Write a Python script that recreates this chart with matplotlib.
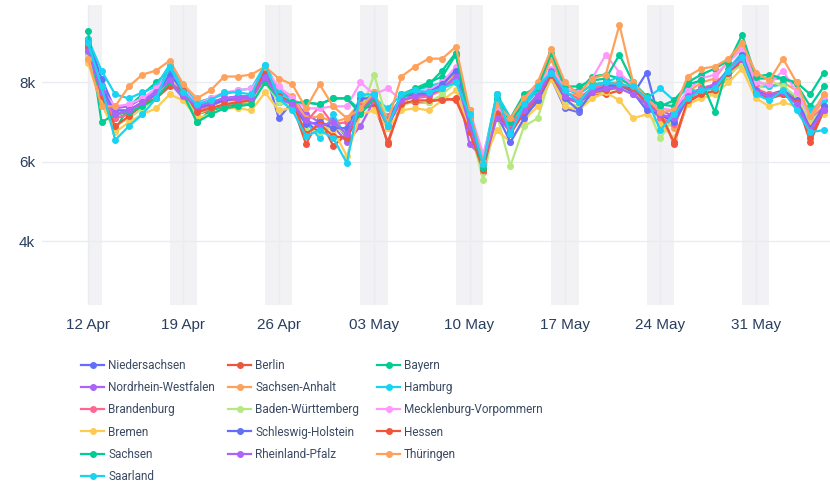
import numpy as np
import pandas as pd
import matplotlib
matplotlib.use("Agg")
import matplotlib.pyplot as plt
import matplotlib.dates as mdates
from matplotlib.ticker import FuncFormatter, FixedLocator

# ---------------- data (values in thousands) ----------------
start_date = "2020-04-12"
n_days = 55

niedersachsen = [9.1, 8.1, 7.3, 7.3, 7.5, 7.8, 8.3,
                 7.7, 7.4, 7.5, 7.6, 7.65, 7.65, 8.3,
                 7.1, 7.5, 7.0, 6.75, 7.05, 6.6, 7.5,
                 7.7, 7.0, 7.55, 7.7, 7.7, 7.9, 8.35,
                 7.0, 5.95, 7.55, 6.8, 7.2, 7.5, 8.1,
                 7.35, 7.25, 7.8, 7.95, 7.9, 7.7, 8.25,
                 6.95, 7.3, 7.65, 7.85, 7.9, 8.2, 8.6,
                 7.75, 7.7, 7.8, 7.6, 6.85, 7.4]
berlin = [8.8, 7.6, 7.1, 7.2, 7.4, 7.6, 7.9,
          7.85, 7.2, 7.3, 7.4, 7.45, 7.5, 8.3,
          7.7, 7.45, 6.45, 7.1, 6.4, 6.7, 7.3,
          7.45, 6.5, 7.5, 7.5, 7.5, 7.6, 7.55,
          6.8, 5.75, 7.4, 6.7, 7.25, 7.6, 8.15,
          7.6, 7.5, 7.7, 7.7, 7.8, 7.9, 7.55,
          7.3, 6.45, 7.5, 7.7, 7.75, 8.15, 8.55,
          7.75, 7.65, 7.7, 7.55, 6.5, 7.3]
bayern = [9.05, 7.8, 6.8, 7.4, 7.7, 8.0, 8.3,
          7.8, 7.0, 7.3, 7.4, 7.5, 7.55, 8.1,
          7.5, 7.4, 7.5, 7.45, 7.6, 7.6, 7.3,
          7.75, 6.85, 7.7, 7.85, 8.0, 8.15, 8.7,
          7.1, 6.0, 7.7, 7.1, 7.7, 7.9, 8.6,
          7.8, 7.8, 8.15, 8.2, 8.1, 7.9, 7.6,
          7.45, 7.4, 8.0, 8.2, 8.35, 8.55, 9.0,
          8.1, 8.1, 8.1, 7.95, 7.4, 7.9]
nordrhein_westfalen = [8.75, 7.9, 7.35, 7.4, 7.6, 7.75, 8.0,
                       7.6, 7.4, 7.5, 7.6, 7.65, 7.65, 8.1,
                       7.8, 7.6, 7.2, 7.0, 6.9, 6.5, 6.9,
                       7.55, 6.9, 7.6, 7.7, 7.75, 7.9, 8.05,
                       6.45, 6.1, 7.2, 6.85, 7.3, 7.7, 8.3,
                       7.6, 7.55, 7.8, 7.9, 7.9, 7.75, 7.5,
                       7.3, 7.15, 7.7, 7.85, 7.95, 8.3, 8.6,
                       7.75, 7.6, 7.7, 7.5, 6.7, 7.25]
sachsen_anhalt = [8.6, 7.5, 7.15, 7.3, 7.5, 7.7, 8.1,
                  7.7, 7.4, 7.5, 7.6, 7.6, 7.6, 8.0,
                  7.85, 7.65, 7.1, 7.15, 7.0, 7.1, 7.5,
                  7.65, 7.1, 7.45, 7.7, 7.65, 7.8, 8.25,
                  7.2, 5.95, 7.35, 7.1, 7.45, 7.8, 8.6,
                  7.7, 7.7, 7.95, 8.0, 8.0, 7.85, 7.55,
                  7.2, 6.85, 7.75, 8.0, 8.1, 8.55, 8.95,
                  8.05, 7.9, 8.0, 7.8, 7.1, 7.55]
hamburg = [9.1, 8.3, 7.7, 7.6, 7.75, 7.9, 8.45,
           7.9, 7.5, 7.6, 7.7, 7.8, 7.85, 8.45,
           7.8, 7.5, 7.0, 6.6, 7.2, 6.6, 7.7,
           7.6, 7.35, 7.7, 7.8, 7.9, 8.0, 8.3,
           7.0, 6.1, 7.7, 7.1, 7.4, 7.8, 8.3,
           7.85, 7.7, 7.95, 8.0, 8.15, 8.0, 7.6,
           7.85, 7.55, 7.85, 7.75, 7.9, 8.35, 8.75,
           7.9, 7.9, 7.95, 7.55, 7.3, 7.55]
brandenburg = [8.85, 7.7, 7.1, 7.2, 7.45, 7.7, 8.0,
               7.7, 7.3, 7.4, 7.55, 7.55, 7.55, 8.15,
               7.5, 7.55, 7.0, 7.4, 6.95, 7.0, 7.4,
               7.55, 7.15, 7.6, 7.6, 7.65, 7.85, 8.05,
               7.1, 5.95, 7.3, 6.95, 7.35, 7.65, 8.3,
               7.75, 7.6, 7.85, 7.95, 7.95, 7.8, 7.4,
               7.1, 6.95, 7.6, 7.85, 7.95, 8.3, 8.7,
               7.85, 7.7, 7.75, 7.6, 7.05, 7.4]
baden_wuerttemberg = [8.7, 7.5, 6.9, 7.1, 7.35, 7.6, 8.05,
                      7.7, 7.2, 7.35, 7.45, 7.5, 7.5, 8.0,
                      7.5, 7.4, 6.8, 6.75, 6.9, 6.7, 7.2,
                      8.2, 7.0, 7.4, 7.55, 7.5, 7.7, 8.0,
                      6.9, 5.55, 7.2, 5.9, 6.9, 7.1, 8.2,
                      7.5, 7.4, 7.7, 7.8, 7.85, 7.75, 7.4,
                      6.6, 7.1, 7.55, 7.75, 7.7, 8.2, 8.45,
                      7.8, 8.05, 7.9, 7.65, 7.05, 7.3]
mecklenburg_vorpommern = [8.8, 7.8, 7.4, 7.45, 7.6, 7.85, 8.2,
                          7.85, 7.45, 7.6, 7.75, 7.8, 7.85, 8.3,
                          7.9, 7.6, 7.35, 7.35, 7.4, 7.4, 8.0,
                          7.7, 7.85, 7.55, 7.8, 7.8, 8.0, 8.4,
                          7.3, 6.2, 7.4, 7.05, 7.55, 7.95, 8.35,
                          7.85, 7.75, 8.1, 8.7, 8.25, 7.9, 7.55,
                          7.35, 7.3, 7.8, 8.1, 8.2, 8.5, 8.85,
                          8.0, 7.95, 8.3, 7.75, 7.15, 7.65]
bremen = [8.5, 7.45, 6.75, 7.0, 7.2, 7.35, 7.7,
          7.55, 7.1, 7.2, 7.35, 7.35, 7.3, 7.75,
          7.3, 7.35, 6.7, 6.95, 6.8, 6.15, 7.2,
          7.3, 6.85, 7.3, 7.35, 7.3, 7.55, 7.8,
          6.8, 6.0, 6.8, 6.5, 7.05, 7.4, 8.1,
          7.4, 7.3, 7.6, 7.75, 7.55, 7.1, 7.2,
          6.95, 6.6, 7.45, 7.6, 7.7, 8.0, 8.35,
          7.6, 7.4, 7.5, 7.4, 6.95, 7.2]
schleswig_holstein = [8.95, 7.9, 7.2, 7.3, 7.5, 7.7, 8.2,
                      7.8, 7.35, 7.45, 7.55, 7.6, 7.6, 8.25,
                      7.65, 7.45, 6.95, 7.0, 6.85, 6.85, 7.6,
                      7.6, 7.05, 7.65, 7.7, 7.75, 7.95, 8.3,
                      7.3, 5.95, 7.2, 6.5, 7.1, 7.55, 8.2,
                      7.6, 7.3, 7.75, 7.9, 7.95, 7.75, 7.3,
                      7.2, 7.0, 7.6, 7.8, 7.9, 8.25, 8.7,
                      7.8, 7.65, 7.75, 7.55, 6.85, 7.4]
hessen = [8.9, 7.65, 6.9, 7.15, 7.45, 7.6, 7.95,
          7.8, 7.25, 7.35, 7.45, 7.5, 7.55, 8.35,
          7.65, 7.5, 6.7, 6.95, 6.65, 6.6, 7.25,
          7.6, 6.45, 7.45, 7.55, 7.55, 7.55, 7.6,
          6.75, 5.8, 7.2, 6.75, 7.3, 7.65, 8.2,
          7.65, 7.5, 7.75, 7.8, 7.9, 7.85, 7.5,
          7.2, 6.5, 7.55, 7.7, 7.8, 8.25, 8.6,
          7.75, 7.6, 7.7, 7.5, 6.6, 7.3]
sachsen = [9.3, 7.0, 7.2, 7.25, 7.4, 7.6, 8.0,
           7.7, 7.0, 7.2, 7.35, 7.4, 7.45, 8.0,
           7.6, 7.5, 7.5, 7.45, 7.6, 7.6, 7.2,
           7.6, 6.9, 7.6, 7.8, 7.95, 8.3, 8.75,
           7.0, 5.85, 7.6, 7.0, 7.5, 7.85, 8.75,
           7.9, 7.9, 8.05, 8.1, 8.7, 8.0, 7.65,
           7.4, 7.55, 7.95, 8.05, 7.25, 8.5, 9.2,
           8.15, 8.2, 8.1, 8.0, 7.7, 8.25]
rheinland_pfalz = [8.8, 7.75, 7.2, 7.3, 7.5, 7.75, 8.05,
                   7.65, 7.4, 7.5, 7.6, 7.6, 7.6, 8.15,
                   7.6, 7.45, 7.05, 6.9, 7.0, 6.7, 7.35,
                   7.65, 6.9, 7.55, 7.65, 7.7, 7.85, 8.15,
                   6.9, 6.0, 7.1, 6.8, 7.3, 7.65, 8.3,
                   7.65, 7.5, 7.75, 7.85, 7.85, 7.7, 7.45,
                   7.2, 7.1, 7.65, 7.8, 7.95, 8.3, 8.6,
                   7.75, 7.65, 7.75, 7.45, 6.8, 7.3]
thueringen = [8.6, 7.4, 7.4, 7.9, 8.2, 8.3, 8.55,
              7.95, 7.6, 7.8, 8.15, 8.15, 8.2, 8.4,
              8.1, 7.95, 7.35, 7.95, 7.4, 7.1, 7.35,
              7.75, 7.0, 8.15, 8.4, 8.6, 8.6, 8.9,
              7.3, 6.0, 7.45, 7.1, 7.6, 8.0, 8.85,
              8.0, 7.7, 8.1, 8.2, 9.45, 8.0, 7.6,
              7.25, 7.3, 8.15, 8.35, 8.4, 8.6, 9.0,
              8.25, 8.05, 8.6, 8.0, 7.15, 7.7]
saarland = [9.0, 7.9, 6.55, 6.9, 7.2, 7.6, 8.4,
            7.75, 7.45, 7.55, 7.75, 7.75, 7.7, 8.45,
            7.6, 7.3, 6.65, 6.8, 6.6, 5.97, 7.7,
            7.7, 6.9, 7.7, 7.8, 7.75, 7.85, 8.0,
            7.2, 5.95, 7.7, 6.7, 7.45, 7.9, 8.25,
            7.8, 7.5, 7.9, 8.0, 7.95, 7.9, 7.6,
            6.8, 7.2, 7.6, 7.8, 7.85, 8.3, 8.65,
            7.7, 7.55, 7.8, 7.3, 6.75, 6.8]

# trace order (as plotted / colour cycle)
state_names = ["Niedersachsen", "Berlin", "Bayern", "Nordrhein-Westfalen",
               "Sachsen-Anhalt", "Hamburg", "Brandenburg", "Baden-Württemberg",
               "Mecklenburg-Vorpommern", "Bremen", "Schleswig-Holstein",
               "Hessen", "Sachsen", "Rheinland-Pfalz", "Thüringen", "Saarland"]
state_values = [niedersachsen, berlin, bayern, nordrhein_westfalen,
                sachsen_anhalt, hamburg, brandenburg, baden_wuerttemberg,
                mecklenburg_vorpommern, bremen, schleswig_holstein,
                hessen, sachsen, rheinland_pfalz, thueringen, saarland]
palette = ["#636EFA", "#EF553B", "#00CC96", "#AB63FA", "#FFA15A",
           "#19D3F3", "#FF6692", "#B6E880", "#FF97FF", "#FECB52"]

ytick_vals = [4000, 6000, 8000]

# ---------------- figure ----------------
W, H = 830, 482
fig = plt.figure(figsize=(W / 100, H / 100), dpi=100)
ax_l, ax_r, ax_t, ax_b = 42, 830, 5, 305
ax = fig.add_axes([ax_l / W, 1 - ax_b / H, (ax_r - ax_l) / W, (ax_b - ax_t) / H])

dates = pd.date_range(start_date, periods=n_days, freq="D")
dnum = mdates.date2num(dates)

# weekend shading (one band per weekend day)
for d, dn in zip(dates, dnum):
    if d.weekday() >= 5:
        ax.axvspan(dn, dn + 1, color="#f2f2f4", lw=0, zorder=0)

ax.grid(True, axis="both", color="#e9ecf1", lw=1, zorder=0.5)
ax.set_axisbelow(True)

handles = []
for i, (name, vals) in enumerate(zip(state_names, state_values)):
    h, = ax.plot(dates, np.array(vals) * 1000, color=palette[i % len(palette)],
                 lw=1.6, marker="o", ms=4.0, label=name, zorder=2 + i * 0.01)
    handles.append(h)

ax.set_xlim(dnum[0] - 3.37, dnum[0] + 54.45)
ax.set_ylim(2400, 9950)

ax.xaxis.set_major_locator(mdates.WeekdayLocator(byweekday=mdates.SU))
ax.xaxis.set_major_formatter(mdates.DateFormatter("%d %b"))
ax.yaxis.set_major_locator(FixedLocator(ytick_vals))
ax.yaxis.set_major_formatter(FuncFormatter(lambda v, p: f"{int(v / 1000)}k"))

for s in ax.spines.values():
    s.set_visible(False)
ax.tick_params(axis="both", length=0, colors="#2a3f5f", labelsize=11)
ax.tick_params(axis="x", pad=9)
ax.tick_params(axis="y", pad=5)
for lab in ax.get_xticklabels() + ax.get_yticklabels():
    lab.set_fontfamily("Liberation Sans")

# legend: three columns, row-major order like the original
col_idx = [[0, 3, 6, 9, 12, 15], [1, 4, 7, 10, 13], [2, 5, 8, 11, 14]]
col_x = [81, 228, 377]
for cx, idxs in zip(col_x, col_idx):
    leg = fig.legend([handles[k] for k in idxs], [state_names[k] for k in idxs],
                     loc="upper left", bbox_to_anchor=(cx / W, 1 - 359 / H),
                     frameon=False, borderpad=0, borderaxespad=0,
                     handlelength=1.95, handletextpad=0.35, labelspacing=0.78,
                     prop={"family": "Roboto", "size": 8.5})
    for t in leg.get_texts():
        t.set_color("#3b4a63")

fig.savefig("out.png", dpi=100)
